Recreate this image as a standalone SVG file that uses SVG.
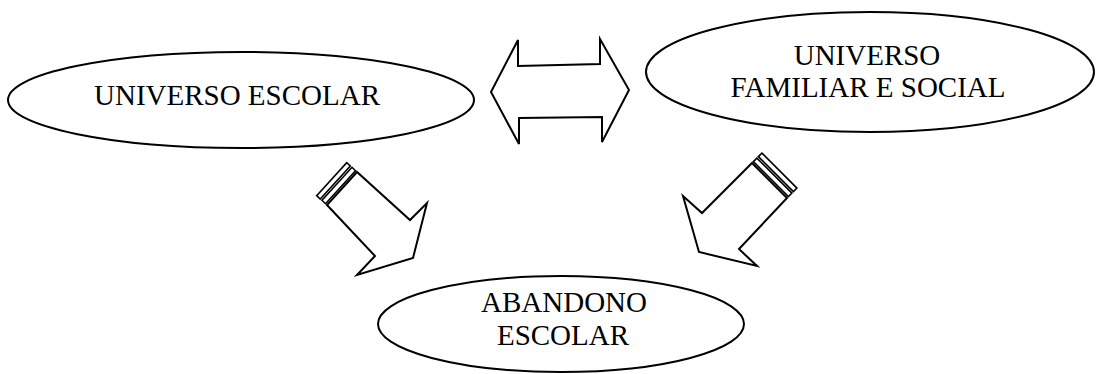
<svg xmlns="http://www.w3.org/2000/svg" width="1096" height="374" viewBox="0 0 1096 374">
<style>
.shape{fill:#fff;stroke:#000;stroke-width:2;stroke-linejoin:miter}
.band{fill:#fff;stroke:#000;stroke-width:1.6}
.lbl{font-family:"Liberation Serif","Times New Roman",serif;font-size:29px;fill:#000;text-anchor:middle}
</style>
<rect width="1096" height="374" fill="#fff"/>
<g id="connectors">
  <polygon class="shape" points="491,92 518,40 518,66 600,64 600,39 629,90 602,142 602,117 519,118 519,144"/>
  <g id="arrow-left">
    <polygon class="shape" points="327,205 375,256 357,275 413,258 427,203 410,220 357,172"/>
    <polygon class="band" points="325.5,203.7 355.5,170.7 352,167.3 322,200.3"/>
    <polygon class="band" points="320.3,199 350.3,166 346.7,162.6 316.7,195.6"/>
  </g>
  <g id="arrow-right">
    <polygon class="shape" points="752,163 702,213 683,196 699,252 757,266 739,249 787,198"/>
    <polygon class="band" points="753.4,161.6 788.4,196.6 791.9,193.1 756.9,158.1"/>
    <polygon class="band" points="758.4,156.6 793.4,191.6 796.9,188.1 761.9,153.1"/>
  </g>
</g>
<g id="node-escolar">
  <ellipse class="shape" cx="241" cy="100" rx="233" ry="48"/>
  <text class="lbl" x="237" y="105">UNIVERSO ESCOLAR</text>
</g>
<g id="node-familiar">
  <ellipse class="shape" cx="870" cy="72" rx="224" ry="60"/>
  <text class="lbl" x="867" y="65">UNIVERSO</text>
  <text class="lbl" x="868" y="97">FAMILIAR E SOCIAL</text>
</g>
<g id="node-abandono">
  <ellipse class="shape" cx="561" cy="324" rx="183" ry="48"/>
  <text class="lbl" x="564" y="312">ABANDONO</text>
  <text class="lbl" x="563" y="345">ESCOLAR</text>
</g>
</svg>
